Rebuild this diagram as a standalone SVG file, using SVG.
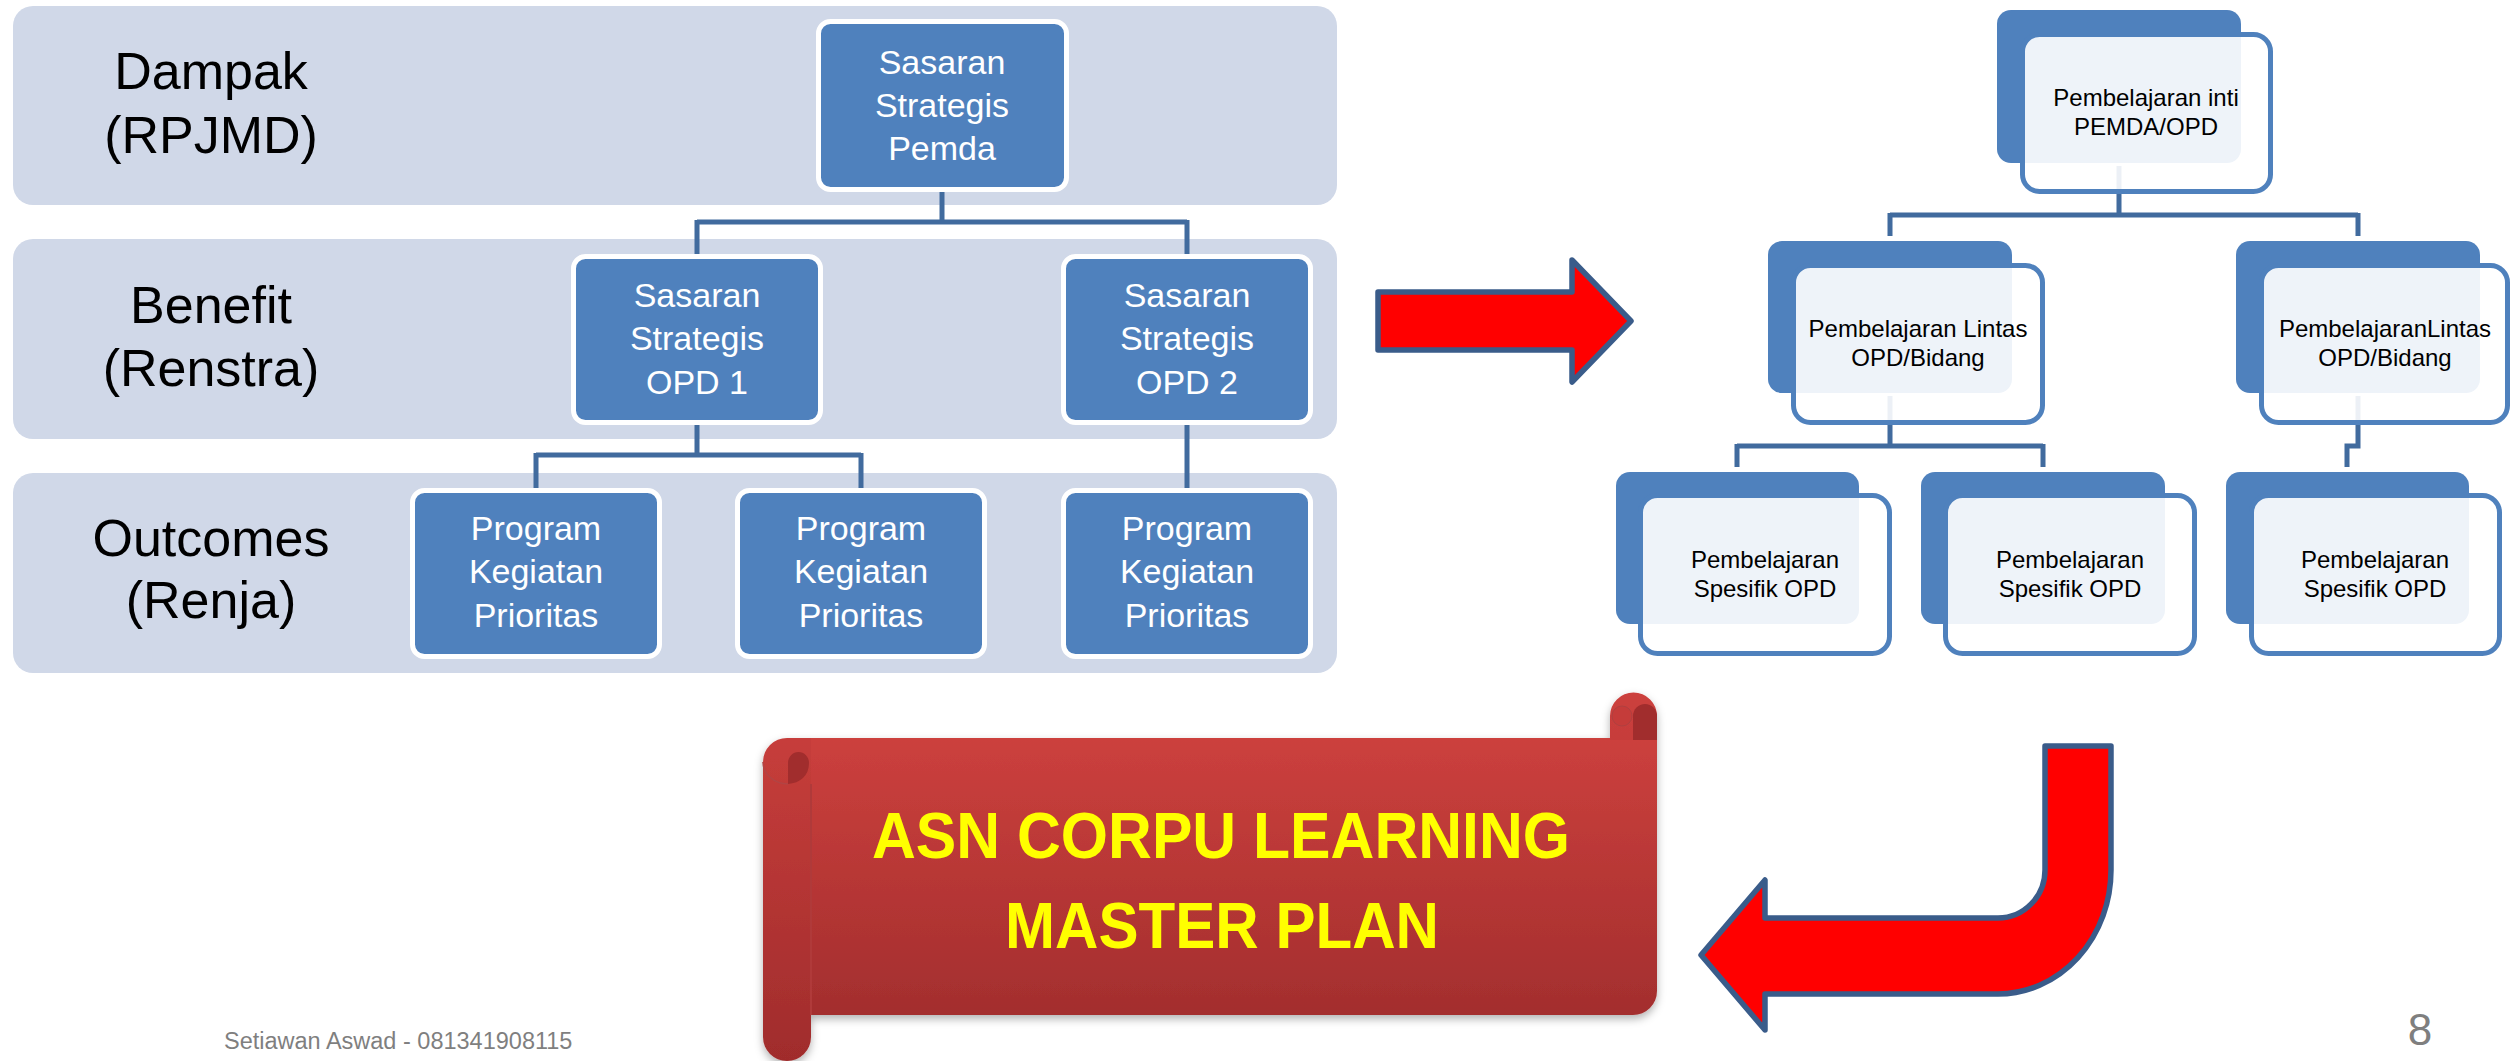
<svg xmlns="http://www.w3.org/2000/svg" width="2511" height="1061" viewBox="0 0 2511 1061">
<defs>
<style>
.band{fill:#D0D8E8}
.lbl{font-family:"Liberation Sans",Arial,sans-serif;font-size:52px;fill:#000;text-anchor:middle}
.nb{fill:#4F81BD;stroke:#FFFFFF;stroke-width:5}
.nt{font-family:"Liberation Sans",Arial,sans-serif;font-size:34px;fill:#FFFFFF;text-anchor:middle}
.conn{fill:none;stroke:#416B9E;stroke-width:5}
.back{fill:#4F81BD}
.front{fill:#FFFFFF;fill-opacity:0.9;stroke:#4F81BD;stroke-width:5}
.rt{font-family:"Liberation Sans",Arial,sans-serif;font-size:24px;fill:#000;text-anchor:middle}
.arrow{fill:#FF0000;stroke:#3A5C8A;stroke-width:5.5;stroke-linejoin:round}
.st{font-family:"Liberation Sans",Arial,sans-serif;font-weight:bold;font-size:64px;fill:#FFFF00;text-anchor:middle}
.foot{font-family:"Liberation Sans",Arial,sans-serif;fill:#7F7F7F}
</style>
<linearGradient id="red" x1="0" y1="0" x2="0" y2="1">
<stop offset="0" stop-color="#CC403D"/>
<stop offset="1" stop-color="#A32E2E"/>
</linearGradient>
<linearGradient id="redRoll" gradientUnits="userSpaceOnUse" x1="0" y1="692" x2="0" y2="1061">
<stop offset="0" stop-color="#CC403D"/>
<stop offset="1" stop-color="#A02C2C"/>
</linearGradient>
<filter id="shadow" x="-5%" y="-5%" width="110%" height="115%">
<feDropShadow dx="0" dy="4" stdDeviation="4" flood-color="#000" flood-opacity="0.3"/>
</filter>
</defs>
<rect width="2511" height="1061" fill="#FFFFFF"/>

<g id="bands">
<rect class="band" x="13" y="6" width="1324" height="199" rx="20"/>
<rect class="band" x="13" y="239" width="1324" height="200" rx="20"/>
<rect class="band" x="13" y="473" width="1324" height="200" rx="20"/>
<text class="lbl" x="211" y="89">Dampak</text>
<text class="lbl" x="211" y="153">(RPJMD)</text>
<text class="lbl" x="211" y="323">Benefit</text>
<text class="lbl" x="211" y="386">(Renstra)</text>
<text class="lbl" x="211" y="556">Outcomes</text>
<text class="lbl" x="211" y="618">(Renja)</text>
</g>

<g id="connectors">
<path class="conn" d="M942 191 V222 M697 222 H1187 M697 220 V254 M1187 220 V254"/>
<path class="conn" d="M697 424 V455 M536 455 H861 M536 453 V488 M861 453 V488"/>
<path class="conn" d="M1187 424 V488"/>
<path class="conn" stroke-width="4.5" d="M2119 166 V215 M1890 215 H2358 M1890 213 V236 M2358 213 V236"/>
<path class="conn" stroke-width="4.5" d="M1890 396 V446 M1737 446 H2043 M1737 444 V467 M2043 444 V467"/>
<path class="conn" stroke-width="4.5" d="M2358 396 V446 H2347 V467"/>
</g>

<g id="node-pemda">
<rect class="nb" x="818.5" y="21.5" width="248" height="168" rx="12"/>
<text class="nt" x="942" y="74">Sasaran</text>
<text class="nt" x="942" y="117">Strategis</text>
<text class="nt" x="942" y="160">Pemda</text>
</g>
<g id="node-opd1">
<rect class="nb" x="573.5" y="256.5" width="247" height="166" rx="12"/>
<text class="nt" x="697" y="307">Sasaran</text>
<text class="nt" x="697" y="350">Strategis</text>
<text class="nt" x="697" y="394">OPD 1</text>
</g>
<g id="node-opd2">
<rect class="nb" x="1063.5" y="256.5" width="247" height="166" rx="12"/>
<text class="nt" x="1187" y="307">Sasaran</text>
<text class="nt" x="1187" y="350">Strategis</text>
<text class="nt" x="1187" y="394">OPD 2</text>
</g>
<g id="node-prog1">
<rect class="nb" x="412.5" y="490.5" width="247" height="166" rx="12"/>
<text class="nt" x="536" y="540">Program</text>
<text class="nt" x="536" y="583">Kegiatan</text>
<text class="nt" x="536" y="627">Prioritas</text>
</g>
<g id="node-prog2">
<rect class="nb" x="737.5" y="490.5" width="247" height="166" rx="12"/>
<text class="nt" x="861" y="540">Program</text>
<text class="nt" x="861" y="583">Kegiatan</text>
<text class="nt" x="861" y="627">Prioritas</text>
</g>
<g id="node-prog3">
<rect class="nb" x="1063.5" y="490.5" width="247" height="166" rx="12"/>
<text class="nt" x="1187" y="540">Program</text>
<text class="nt" x="1187" y="583">Kegiatan</text>
<text class="nt" x="1187" y="627">Prioritas</text>
</g>

<g id="arrow-right">
<path class="arrow" d="M1378 292 H1572 V260 L1631 321 L1572 382 V350 H1378 Z"/>
</g>

<g id="node-inti">
<rect class="back" x="1997" y="10" width="244" height="153" rx="14"/>
<rect class="front" x="2022.5" y="34.5" width="248" height="157" rx="17"/>
<text class="rt" x="2146" y="106">Pembelajaran inti</text>
<text class="rt" x="2146" y="135">PEMDA/OPD</text>
</g>
<g id="node-lintas1">
<rect class="back" x="1768" y="241" width="244" height="152" rx="14"/>
<rect class="front" x="1793.5" y="265.5" width="249" height="157" rx="17"/>
<text class="rt" x="1918" y="337">Pembelajaran Lintas</text>
<text class="rt" x="1918" y="366">OPD/Bidang</text>
</g>
<g id="node-lintas2">
<rect class="back" x="2236" y="241" width="244" height="152" rx="14"/>
<rect class="front" x="2261.5" y="265.5" width="246" height="157" rx="17"/>
<text class="rt" x="2385" y="337">PembelajaranLintas</text>
<text class="rt" x="2385" y="366">OPD/Bidang</text>
</g>
<g id="node-spesifik1">
<rect class="back" x="1616" y="472" width="243" height="152" rx="14"/>
<rect class="front" x="1640.5" y="495.5" width="249" height="158" rx="17"/>
<text class="rt" x="1765" y="568">Pembelajaran</text>
<text class="rt" x="1765" y="597">Spesifik OPD</text>
</g>
<g id="node-spesifik2">
<rect class="back" x="1921" y="472" width="244" height="152" rx="14"/>
<rect class="front" x="1945.5" y="495.5" width="249" height="158" rx="17"/>
<text class="rt" x="2070" y="568">Pembelajaran</text>
<text class="rt" x="2070" y="597">Spesifik OPD</text>
</g>
<g id="node-spesifik3">
<rect class="back" x="2226" y="472" width="243" height="152" rx="14"/>
<rect class="front" x="2251.5" y="495.5" width="248" height="158" rx="17"/>
<text class="rt" x="2375" y="568">Pembelajaran</text>
<text class="rt" x="2375" y="597">Spesifik OPD</text>
</g>

<g id="arrow-back">
<path class="arrow" d="M2045 746 H2111 V870 A113 124 0 0 1 1998 994 H1765 V1030 L1701 955 L1765 880 V918 H1998 A47 48 0 0 0 2045 870 Z"/>
</g>

<g id="scroll">
<g filter="url(#shadow)">
<path fill="url(#red)" d="M787 738 H1657 V991 A24 24 0 0 1 1633 1015 H787 Z"/>
<path fill="url(#redRoll)" d="M1610 740 V716 A23.5 23.5 0 0 1 1657 716 V740 Z"/>
<path fill="url(#redRoll)" d="M763 762 A24 24 0 0 1 787 738 H811 V1037 A24 24 0 0 1 763 1037 Z"/>
</g>
<path fill="#A12D2D" d="M1633 740 V716 A12 12 0 0 1 1657 716 V740 Z"/>
<circle cx="1622" cy="716" r="10" fill="#C53C3A" stroke="#B04040" stroke-width="1"/>
<path fill="#A12D2D" d="M788 784 V763 A10.5 11 0 0 1 809 763 C809 776 800 783 788 784 Z"/>
<path fill="none" stroke="#B24444" stroke-width="1.5" d="M763 762 A25 22 0 0 0 788 784"/>
<path fill="none" stroke="#B03A3A" stroke-width="2" d="M811 784 V1015"/>
<text class="st" x="1221" y="858" textLength="698" lengthAdjust="spacingAndGlyphs">ASN CORPU LEARNING</text>
<text class="st" x="1222" y="948" textLength="434" lengthAdjust="spacingAndGlyphs">MASTER PLAN</text>
</g>

<g id="footer">
<text class="foot" x="224" y="1049" font-size="23.5">Setiawan Aswad - 081341908115</text>
<text class="foot" x="2420" y="1045" font-size="44" text-anchor="middle">8</text>
</g>
</svg>
